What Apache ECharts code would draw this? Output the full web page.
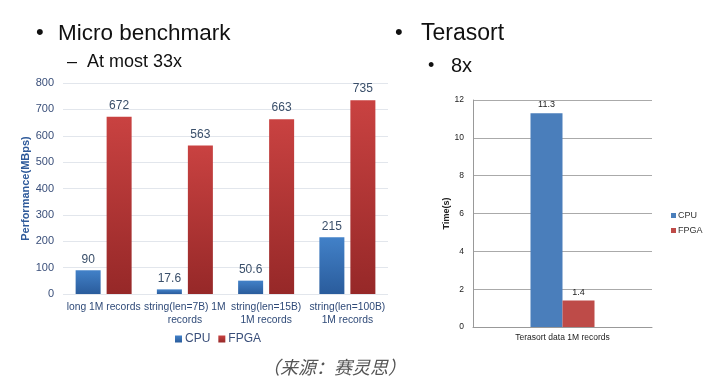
<!DOCTYPE html>
<html><head><meta charset="utf-8">
<script src="https://cdn.jsdelivr.net/npm/echarts@6/dist/echarts.min.js"></script>
<style>html,body{margin:0;padding:0;background:#fff}#c{width:703px;height:384px}</style>
</head><body><div id="c"></div>
<script>
const microCategories = ['long 1M records', 'string(len=7B) 1M\nrecords', 'string(len=15B)\n1M records', 'string(len=100B)\n1M records'];
const microCPU = [90, 17.6, 50.6, 215];
const microFPGA = [672, 563, 663, 735];
const microTicks = [0, 100, 200, 300, 400, 500, 600, 700, 800];
const teraCategories = ['Terasort data 1M records'];
const teraCPU = [11.3];
const teraFPGA = [1.4];
const teraTicks = [0, 2, 4, 6, 8, 10, 12];

const chart = echarts.init(document.getElementById('c'));
const blueGrad = new echarts.graphic.LinearGradient(0, 0, 0, 1, [{offset: 0, color: '#4281c8'}, {offset: 1, color: '#2a5c9c'}]);
const redGrad = new echarts.graphic.LinearGradient(0, 0, 0, 1, [{offset: 0, color: '#c94241'}, {offset: 1, color: '#962828'}]);
const txt = '"Liberation Sans", Arial, sans-serif';
chart.setOption({
  animation: false,
  textStyle: {fontFamily: txt},
  graphic: [
    {type: 'text', left: 36, top: 22, style: {text: '•', fontSize: 22, fill: '#111', fontFamily: txt}},
    {type: 'text', left: 58, top: 22, style: {text: 'Micro benchmark', fontSize: 22.5, fill: '#111', fontFamily: txt}},
    {type: 'text', left: 67, top: 53, style: {text: '–  At most 33x', fontSize: 18, fill: '#111', fontFamily: txt}},
    {type: 'text', left: 395, top: 22, style: {text: '•', fontSize: 22, fill: '#111', fontFamily: txt}},
    {type: 'text', left: 421, top: 22, style: {text: 'Terasort', fontSize: 23, fill: '#111', fontFamily: txt}},
    {type: 'text', left: 428, top: 57, style: {text: '•', fontSize: 18, fill: '#111', fontFamily: txt}},
    {type: 'text', left: 451, top: 56, style: {text: '8x', fontSize: 20, fill: '#111', fontFamily: txt}},
    {type: 'text', left: 262, top: 358, style: {text: '（来源：赛灵思）', fontSize: 18, fill: '#555', fontStyle: 'italic', fontFamily: '"Noto Sans CJK SC", sans-serif'}}
  ],
  legend: [
    {data: ['CPU', 'FPGA'], left: 170, top: 328, itemWidth: 7, itemHeight: 7, itemGap: 8, icon: 'rect',
     textStyle: {fontSize: 12, color: '#3a4f7a', padding: [0, 0, 0, -2]}},
    {data: ['CPU ', 'FPGA '], orient: 'vertical', left: 666, top: 206, itemWidth: 5, itemHeight: 5, itemGap: 6, icon: 'rect',
     textStyle: {fontSize: 9, color: '#333', padding: [0, 0, 0, -3]}}
  ],
  grid: [
    {left: 63, right: 315, top: 83, bottom: 90},
    {left: 473, right: 51, top: 100, bottom: 57}
  ],
  xAxis: [
    {type: 'category', gridIndex: 0, data: microCategories,
     axisLine: {show: false}, axisTick: {show: false},
     axisLabel: {interval: 0, fontSize: 10.3, color: '#2f4a78', margin: 7, lineHeight: 13}},
    {type: 'category', gridIndex: 1, data: teraCategories,
     axisLine: {lineStyle: {color: '#999'}}, axisTick: {show: false},
     axisLabel: {fontSize: 8.5, color: '#222', margin: 6}}
  ],
  yAxis: [
    {type: 'value', gridIndex: 0, min: microTicks[0], max: microTicks[microTicks.length - 1], interval: 100,
     name: 'Performance(MBps)', nameLocation: 'middle', nameGap: 20,
     nameTextStyle: {fontSize: 11, fontWeight: 'bold', color: '#2f5a9a'},
     axisLine: {show: false}, axisTick: {show: false},
     axisLabel: {fontSize: 11, color: '#3a4f7a', margin: 9},
     splitLine: {lineStyle: {color: '#e2e6ec'}}},
    {type: 'value', gridIndex: 1, min: teraTicks[0], max: teraTicks[teraTicks.length - 1], interval: 2,
     name: 'Time(s)', nameLocation: 'middle', nameGap: 20,
     nameTextStyle: {fontSize: 9, fontWeight: 'bold', color: '#222'},
     axisLine: {show: true, lineStyle: {color: '#999'}}, axisTick: {show: false},
     axisLabel: {fontSize: 8.5, color: '#222', margin: 9},
     splitLine: {lineStyle: {color: '#aaa'}}}
  ],
  series: [
    {name: 'CPU', type: 'bar', xAxisIndex: 0, yAxisIndex: 0, data: microCPU, barWidth: 25, barGap: '24%',
     itemStyle: {color: blueGrad},
     label: {show: true, position: 'top', fontSize: 12, color: '#3a4f6a', distance: 5}},
    {name: 'FPGA', type: 'bar', xAxisIndex: 0, yAxisIndex: 0, data: microFPGA, barWidth: 25, barGap: '24%',
     itemStyle: {color: redGrad},
     label: {show: true, position: 'top', fontSize: 12, color: '#3a4f6a', distance: 5}},
    {name: 'CPU ', type: 'bar', xAxisIndex: 1, yAxisIndex: 1, data: teraCPU, barWidth: 32, barGap: '0%',
     itemStyle: {color: '#4a7ebb'},
     label: {show: true, position: 'top', fontSize: 9, color: '#222', distance: 4}},
    {name: 'FPGA ', type: 'bar', xAxisIndex: 1, yAxisIndex: 1, data: teraFPGA, barWidth: 32, barGap: '0%',
     itemStyle: {color: '#be4b48'},
     label: {show: true, position: 'top', fontSize: 9, color: '#222', distance: 4}}
  ]
});
</script></body></html>
